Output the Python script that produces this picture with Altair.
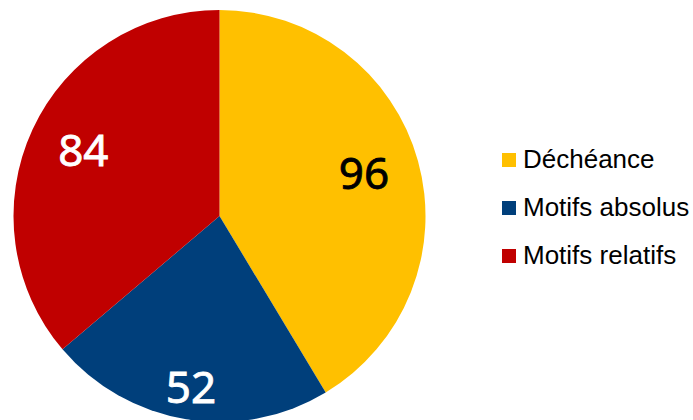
import altair as alt
import pandas as pd

categories = ["Déchéance", "Motifs absolus", "Motifs relatifs"]
values = [96, 52, 84]
colors = ["#FFC000", "#003F7B", "#C00000"]

df = pd.DataFrame({
    "cat": categories,
    "value": values,
    "idx": list(range(len(categories))),
})

cx, cy, R = 219.5, 216, 206

pie = alt.Chart(df).mark_arc(outerRadius=R).encode(
    theta=alt.Theta("value:Q", stack=True),
    order=alt.Order("idx:Q", sort="ascending"),
    x=alt.value(cx),
    y=alt.value(cy),
    color=alt.Color(
        "cat:N",
        scale=alt.Scale(domain=categories, range=colors),
        sort=categories,
        legend=alt.Legend(
            title=None,
            orient="none",
            legendX=496,
            legendY=147,
            symbolType="square",
            symbolSize=196,
            symbolStrokeWidth=0,
            labelFont="Liberation Sans",
            labelFontSize=26,
            labelColor="#000000",
            labelOffset=1,
            rowPadding=22,
            labelLimit=300,
        ),
    ),
)

labels = alt.Chart(df).mark_text(
    font="Noto Sans", fontSize=44, align="center", baseline="middle", strokeWidth=0.8
).transform_window(
    cum="sum(value)", sort=[alt.SortField("idx", order="ascending")], frame=[None, 0]
).transform_calculate(
    mid="datum.cum - datum.value / 2",
    r="datum.cat == 'Motifs absolus' ? 176 : 150",
).encode(
    x=alt.value(cx),
    y=alt.value(cy),
    theta=alt.Theta("mid:Q", stack=None),
    radius=alt.Radius("r:Q", scale=None),
    text=alt.Text("value:Q"),
    color=alt.condition("datum.cat == 'Déchéance'", alt.value("#000000"), alt.value("#FFFFFF")),
    stroke=alt.condition("datum.cat == 'Déchéance'", alt.value("#000000"), alt.value("#FFFFFF")),
)

chart = alt.layer(pie, labels).properties(
    width=693, height=420, autosize=alt.AutoSizeParams(type="none"), padding=0
).configure_view(stroke=None)

chart.save("out.html", embed_options={"renderer": "svg", "actions": False})
